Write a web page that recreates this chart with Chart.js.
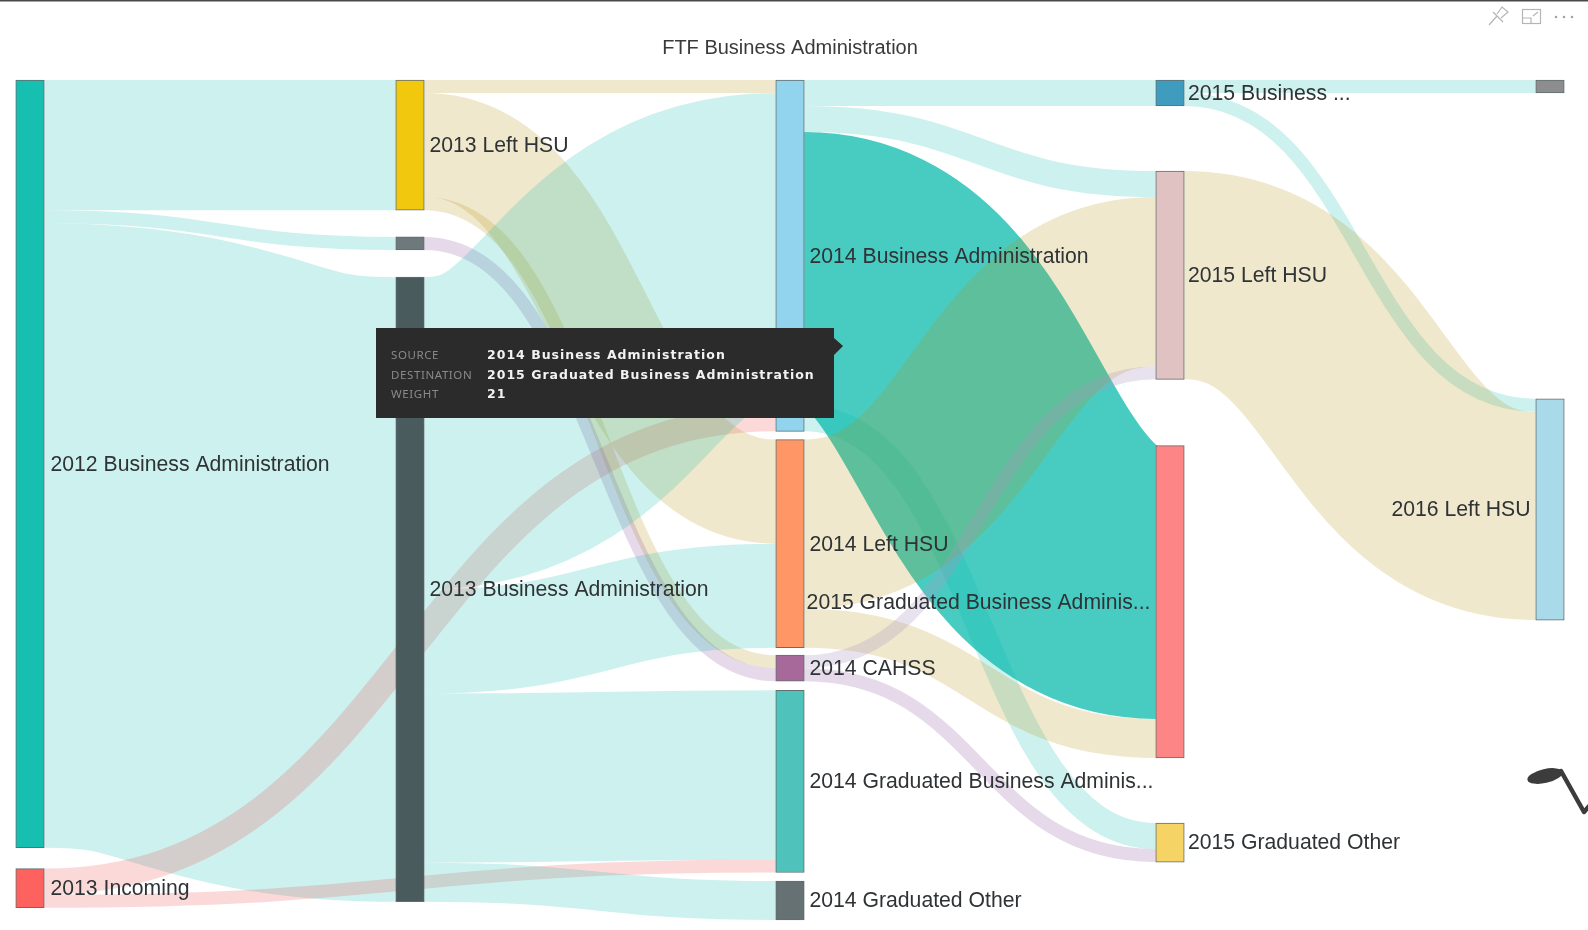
<!DOCTYPE html>
<html><head><meta charset="utf-8">
<style>html,body{margin:0;padding:0;background:#fff;overflow:hidden}canvas{display:block;filter:blur(0.45px)}#w{width:1588px;height:930px;position:relative}</style>
<script src="https://cdn.jsdelivr.net/npm/chart.js@4"></script>
</head><body><div id="w"><canvas id="c" width="1588" height="930"></canvas></div>
<script>
const columns = ['2012','2013','2014','2015','2016'];
const nodeIds = ['2012 Business Administration','2013 Incoming','2013 Left HSU','2013 CAHSS','2013 Business Administration','2014 Business Administration','2014 Left HSU','2014 CAHSS','2014 Graduated Business Administration','2014 Graduated Other','2015 Business Administration','2015 Left HSU','2015 Graduated Business Administration','2015 Graduated Other','2016 Business Administration','2016 Left HSU'];
const nodeLabels = ['2012 Business Administration','2013 Incoming','2013 Left HSU','','2013 Business Administration','2014 Business Administration','2014 Left HSU','2014 CAHSS','2014 Graduated Business Adminis...','2014 Graduated Other','2015 Business ...','2015 Left HSU','2015 Graduated Business Adminis...','2015 Graduated Other','','2016 Left HSU'];
const nodeLabelLeft = [0,0,0,0,0,0,0,0,0,0,0,0,1,0,0,1];
const nodeColumns = [0,0,1,1,1,2,2,2,2,2,3,3,3,3,4,4];
const nodeStarts = [0,60.6,0,12.06,15.15,0,27.63,44.2,46.9,61.55,0,7,28.1,57.1,0,24.5];
const nodeColors = ['#17BFB1','#FD625E','#F2C80F','#6E797B','#4A5B5E','#92D4EE','#FE9666','#A66999','#4FC3BB','#667173','#3F9CBF','#E0C2C2','#FD8585','#F5D365','#8D8D8D','#A9DAEA'];
const linkSources = [0,0,0,1,1,2,2,2,3,4,4,4,4,5,5,5,5,6,6,7,7,10,10,11];
const linkTargets = [2,3,4,5,8,5,6,7,7,5,6,8,9,10,11,12,13,11,12,11,13,14,15,15];
const linkWeights = [10,1,48,2,1,1,8,1,1,24,8,13,3,2,2,21,2,13,3,1,1,1,1,16];
const linkKinds = ['ba','ba','ba','in','in','left','left','left','cahss','ba','ba','ba','ba','ba','ba','ba','ba','left','left','cahssPale','cahss','ba','ba','left'];
const kindColors = {ba:'rgba(1,184,170,0.2)',left:'rgba(180,140,0,0.2)',in:'rgba(235,65,65,0.2)',cahss:'rgba(130,65,150,0.2)',cahssPale:'rgba(170,150,190,0.28)'};
const hoverColor = 'rgba(1,184,170,0.72)';
const hoveredLink = 15;
const tooltipKeys = ['SOURCE','DESTINATION','WEIGHT'];
const labelPad = [6,5,5,3.5,0];

const nodeSize = nodeIds.map((_,i)=>{
  let a=0,b=0;linkWeights.forEach((w,k)=>{if(linkSources[k]===i)a+=w;if(linkTargets[k]===i)b+=w;});return Math.max(a,b);
});
const datasets = nodeIds.map((id,i)=>{
  const data = columns.map((_,c)=> c===nodeColumns[i] ? [nodeStarts[i],nodeStarts[i]+nodeSize[i]] : null);
  return {label:id,data,backgroundColor:nodeColors[i],borderColor:'rgba(30,50,50,0.7)',borderWidth:1,borderSkipped:false,barThickness:28.5,clip:false};
});
function ribbons(){
  const order = linkWeights.map((_,k)=>k);
  const srcTop={},dstTop={};
  nodeIds.forEach((_,i)=>{
    let o=nodeStarts[i];
    order.filter(k=>linkSources[k]===i).sort((p,q)=>nodeStarts[linkTargets[p]]-nodeStarts[linkTargets[q]]).forEach(k=>{srcTop[k]=o;o+=linkWeights[k];});
    o=nodeStarts[i];
    order.filter(k=>linkTargets[k]===i).sort((p,q)=>nodeStarts[linkSources[p]]-nodeStarts[linkSources[q]]).forEach(k=>{dstTop[k]=o;o+=linkWeights[k];});
  });
  return order.map(k=>({k,s:srcTop[k],d:dstTop[k]}));
}
const sankeyPlugin = {
  id:'sankey',
  beforeDatasetsDraw(chart){
    const {ctx,scales:{x,y}} = chart, half=14.25;
    const rs = ribbons().sort((a,b)=>(b.k===hoveredLink)-(a.k===hoveredLink));
    ctx.save();ctx.lineCap='butt';
    rs.forEach(r=>{
      const w=linkWeights[r.k];
      const x0=x.getPixelForValue(nodeColumns[linkSources[r.k]])+half;
      const x1=x.getPixelForValue(nodeColumns[linkTargets[r.k]])-half;
      const m=(x0+x1)/2;
      const a=y.getPixelForValue(r.s+w/2),c=y.getPixelForValue(r.d+w/2);
      ctx.beginPath();ctx.moveTo(x0,a);ctx.bezierCurveTo(m,a,m,c,x1,c);
      ctx.lineWidth=y.getPixelForValue(w)-y.getPixelForValue(0);
      ctx.strokeStyle = r.k===hoveredLink?hoverColor:kindColors[linkKinds[r.k]];
      ctx.stroke();
    });
    ctx.restore();
  },
  afterDraw(chart){
    const {ctx,scales:{x,y}} = chart, half=14.5;
    ctx.save();
    ctx.font='21.2px "Liberation Sans"';ctx.fillStyle='#2f3335';ctx.textBaseline='middle';
    nodeLabels.forEach((t,i)=>{
      if(!t)return;
      const cx=x.getPixelForValue(nodeColumns[i]);
      const cy=y.getPixelForValue(nodeStarts[i]+nodeSize[i]/2)+1;
      if(nodeLabelLeft[i]){ctx.textAlign='right';ctx.fillText(t,cx-half-5,cy);}
      else{ctx.textAlign='left';ctx.fillText(t,cx+half+labelPad[nodeColumns[i]],cy);}
    });
    const bx=376,by=328,bw=458,bh=90;
    ctx.fillStyle='#2b2b2b';ctx.fillRect(bx,by,bw,bh);
    ctx.beginPath();ctx.moveTo(bx+bw,by+10);ctx.lineTo(bx+bw+9,by+18);ctx.lineTo(bx+bw,by+27);ctx.fill();
    const vals=[nodeIds[linkSources[hoveredLink]],nodeIds[linkTargets[hoveredLink]],String(linkWeights[hoveredLink])];
    ctx.textAlign='left';ctx.textBaseline='middle';
    tooltipKeys.forEach((t,i)=>{
      const ty=356+i*19.5;
      ctx.font='11.5px "Noto Sans"';ctx.letterSpacing='0.6px';ctx.fillStyle='#8a8a8a';ctx.fillText(t,391,ty);
      ctx.font='bold 12.5px "DejaVu Sans"';ctx.letterSpacing='1px';ctx.fillStyle='#f2f2f2';ctx.fillText(vals[i],487,ty);
    });
    ctx.letterSpacing='0px';
    ctx.fillStyle='#4a4a4a';ctx.fillRect(0,0,1588,1.5);
    ctx.strokeStyle='#b5b5b5';ctx.lineWidth=1.2;
    ctx.beginPath();ctx.moveTo(1489,25);ctx.lineTo(1497,16);ctx.moveTo(1493,12);ctx.lineTo(1503,22);ctx.moveTo(1497,14);ctx.lineTo(1502,7);ctx.lineTo(1508,12);ctx.lineTo(1501,18);ctx.stroke();
    ctx.strokeRect(1522.5,9.5,18,14);
    ctx.beginPath();ctx.moveTo(1522,18);ctx.lineTo(1531,18);ctx.lineTo(1531,24);ctx.moveTo(1533,16);ctx.lineTo(1538,12);ctx.stroke();
    ctx.fillStyle='#a5a5a5';[1556,1564,1572].forEach(p=>{ctx.beginPath();ctx.arc(p,17,1.3,0,7);ctx.fill();});
    ctx.fillStyle='#3c3c3c';ctx.beginPath();ctx.ellipse(1545,776,18,7,-0.22,0,7);ctx.fill();
    ctx.strokeStyle='#3c3c3c';ctx.lineWidth=4.5;ctx.lineCap='round';ctx.lineJoin='round';
    ctx.beginPath();ctx.moveTo(1561,771);ctx.lineTo(1584,812);ctx.lineTo(1590,805);ctx.stroke();
    ctx.restore();
  }
};
new Chart(document.getElementById('c'),{
  type:'bar',
  data:{labels:columns,datasets},
  plugins:[sankeyPlugin],
  options:{
    responsive:false,animation:false,events:[],
    layout:{padding:{left:30,right:38,top:36,bottom:10}},
    datasets:{bar:{grouped:false}},
    plugins:{legend:{display:false},tooltip:{enabled:false},
      title:{display:true,text:'FTF Business Administration',color:'#3a3a3a',font:{family:'"Liberation Sans"',size:20,weight:'normal'},padding:{top:0,bottom:20}}},
    scales:{
      x:{display:false,offset:false,grid:{display:false}},
      y:{display:false,reverse:true,min:0,max:64.55,grid:{display:false}}
    }
  }
});
</script></body></html>
